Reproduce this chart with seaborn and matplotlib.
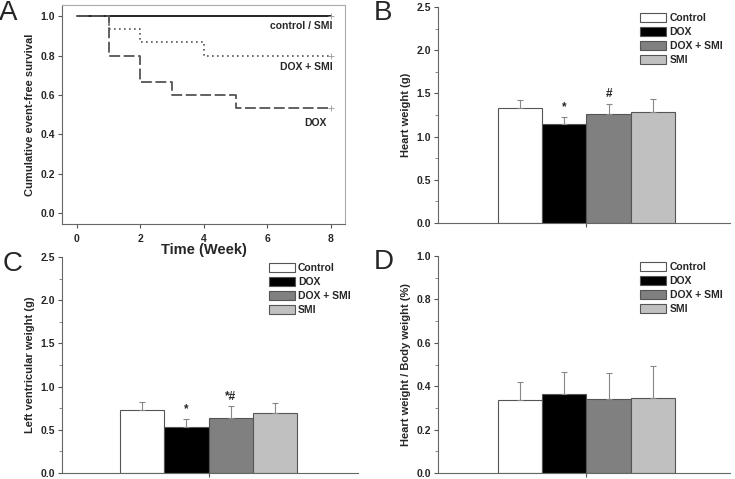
import numpy as np
import matplotlib.pyplot as plt
import seaborn as sns
from matplotlib.patches import Patch
from matplotlib.ticker import MultipleLocator

sns.set_style("ticks")
plt.rcParams['font.family'] = ['Liberation Sans', 'DejaVu Sans']
plt.rcParams['font.weight'] = 'bold'

# ---- dados ----
grupos = ["Control", "DOX", "DOX + SMI", "SMI"]
cores = ["#ffffff", "#000000", "#808080", "#c0c0c0"]

peso_coracao = [1.33, 1.15, 1.26, 1.29]
peso_coracao_err = [0.09, 0.08, 0.12, 0.14]
marca_coracao = ["", "*", "#", ""]

peso_vE = [0.73, 0.53, 0.64, 0.70]
peso_vE_err = [0.09, 0.10, 0.13, 0.11]
marca_vE = ["", "*", "*#", ""]

razao_cc = [0.335, 0.365, 0.34, 0.345]
razao_cc_err = [0.085, 0.10, 0.12, 0.15]
marca_cc = ["", "", "", ""]

# curvas de sobrevida (semanas)
semanas_ctrl = [0, 8]
sobrev_ctrl = [1.0, 1.0]
semanas_doxsmi = [0, 1, 2, 4, 8]
sobrev_doxsmi = [1.0, 0.933, 0.867, 0.8, 0.8]
semanas_dox = [0, 1, 2, 3, 5, 8]
sobrev_dox = [1.0, 0.8, 0.667, 0.6, 0.533, 0.533]

fig = plt.figure(figsize=(7.35, 4.79), dpi=100)
axA = fig.add_axes([0.0844, 0.532, 0.385, 0.457])
axB = fig.add_axes([0.596, 0.5345, 0.397, 0.451])
axC = fig.add_axes([0.0844, 0.0125, 0.403, 0.451])
axD = fig.add_axes([0.596, 0.0125, 0.397, 0.453])

# ---- PAINEL A: sobrevida ----
sns.lineplot(x=semanas_ctrl, y=sobrev_ctrl, ax=axA, color="black", lw=1.2,
             drawstyle="steps-post", sort=False, estimator=None)
sns.lineplot(x=semanas_doxsmi, y=sobrev_doxsmi, ax=axA, color="#555555", lw=1.2,
             linestyle=(0, (1, 2)), drawstyle="steps-post", sort=False, estimator=None)
sns.lineplot(x=semanas_dox, y=sobrev_dox, ax=axA, color="#555555", lw=1.3,
             linestyle=(0, (6, 2)), drawstyle="steps-post", sort=False, estimator=None)
axA.plot([8, 8, 8], [1.0, 0.8, 0.533], "+", color="#999999", ms=4, mew=0.6)
axA.set_xlim(-0.47, 8.45)
axA.set_ylim(-0.056, 1.056)
axA.set_xticks([0, 2, 4, 6, 8])
axA.set_yticks([0.0, 0.2, 0.4, 0.6, 0.8, 1.0])
axA.yaxis.set_major_formatter(plt.FormatStrFormatter('%.1f'))
axA.tick_params(labelsize=7.5, length=3, width=0.8, color="#555555", pad=2)
axA.tick_params(axis="x", pad=4)
for lado in ["left", "bottom"]:
    axA.spines[lado].set_color("#666666")
for lado in ["top", "right"]:
    axA.spines[lado].set_color("#aaaaaa")
axA.set_ylabel("Cumulative event-free survival", fontsize=8, fontweight="bold", labelpad=4)
axA.set_xlabel("Time (Week)", fontsize=10.5, fontweight="bold", labelpad=-1)
axA.text(8.06, 0.95, "control / SMI", ha="right", va="center", fontsize=7.5, fontweight="bold")
axA.text(8.06, 0.74, "DOX + SMI", ha="right", va="center", fontsize=7.5, fontweight="bold")
axA.text(7.53, 0.457, "DOX", ha="center", va="center", fontsize=7.5, fontweight="bold")


# ---- PAINEIS B, C, D: barras ----
def barras(ax, valores, erros, marcas, ylabel, ymax, passo, xlim):
    sns.barplot(x=grupos, y=valores, hue=grupos, palette=cores, order=grupos,
                hue_order=grupos, width=1.0, edgecolor="#555555", linewidth=0.8,
                legend=False, ax=ax)
    pos = np.arange(len(grupos))
    ax.errorbar(pos, valores, yerr=[np.zeros(len(erros)), erros], fmt="none",
                ecolor="#888888", elinewidth=0.8, capsize=2.3, capthick=0.8)
    for p, v, e, m in zip(pos, valores, erros, marcas):
        if m:
            ax.text(p, v + e + ymax * 0.015, m, ha="center", va="bottom",
                    fontsize=8.5, fontweight="bold")
    ax.set_xlim(*xlim)
    ax.set_ylim(0, ymax)
    ax.set_xticks([1.5])
    ax.set_xticklabels([""])
    ax.yaxis.set_major_locator(MultipleLocator(passo))
    ax.yaxis.set_minor_locator(MultipleLocator(passo / 2))
    ax.yaxis.set_major_formatter(plt.FormatStrFormatter('%.1f'))
    ax.tick_params(labelsize=7.5, length=3, width=0.8, color="#555555", pad=2)
    ax.tick_params(which="minor", length=2, width=0.6, color="#777777")
    sns.despine(ax=ax)
    ax.spines["left"].set_color("#666666")
    ax.spines["bottom"].set_color("#666666")
    ax.set_ylabel(ylabel, fontsize=8, fontweight="bold", labelpad=4)
    ax.set_xlabel("")
    alcas = [Patch(facecolor=c, edgecolor="#555555", linewidth=0.8) for c in cores]
    ax.legend(alcas, grupos, loc="upper right", bbox_to_anchor=(0.995, 1.0),
              frameon=False, handlelength=2.5, handleheight=0.95,
              handletextpad=0.3, labelspacing=0.38, borderaxespad=0.2,
              prop={"weight": "bold", "size": 7.5})


barras(axB, peso_coracao, peso_coracao_err, marca_coracao, "Heart weight (g)", 2.5, 0.5,
       (-1.856, 4.743))
barras(axC, peso_vE, peso_vE_err, marca_vE, "Left ventricular weight (g)", 2.5, 0.5,
       (-1.81, 4.88))
barras(axD, razao_cc, razao_cc_err, marca_cc, "Heart weight / Body weight (%)", 1.0, 0.2,
       (-1.856, 4.743))

# letras dos paineis
fig.text(-0.002, 1.0, "A", fontsize=20, fontweight="normal", va="top", ha="left")
fig.text(0.508, 1.0, "B", fontsize=20, fontweight="normal", va="top", ha="left")
fig.text(0.003, 0.475, "C", fontsize=20, fontweight="normal", va="top", ha="left")
fig.text(0.508, 0.48, "D", fontsize=20, fontweight="normal", va="top", ha="left")

plt.savefig("out.png", dpi=100)
print("ok")
